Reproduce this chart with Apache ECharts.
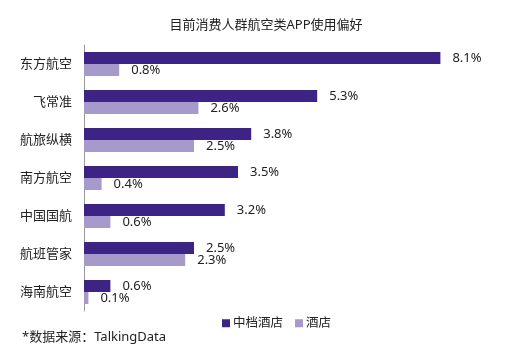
<!DOCTYPE html>
<html>
<head>
<meta charset="utf-8">
<script src="https://cdn.jsdelivr.net/npm/echarts@6/dist/echarts.min.js"></script>
<style>html,body{margin:0;padding:0;background:#fff;}#c{width:532px;height:354px;}</style>
</head>
<body>
<div id="c"></div>
<script>
var categories = ['东方航空', '飞常准', '航旅纵横', '南方航空', '中国国航', '航班管家', '海南航空'];
var midHotel = [8.1, 5.3, 3.8, 3.5, 3.2, 2.5, 0.6];
var hotel = [0.8, 2.6, 2.5, 0.4, 0.6, 2.3, 0.1];
var seriesNames = ['中档酒店', '酒店'];
var titleText = '目前消费人群航空类APP使用偏好';
var noteText = '*数据来源：TalkingData';

var font = '"Noto Sans", "Noto Sans CJK SC", sans-serif';
var chart = echarts.init(document.getElementById('c'), null, {renderer: 'canvas'});
function lbl() {
  return {show: true, position: 'right', distance: 12, color: '#222', fontSize: 13, fontFamily: font,
    formatter: function (p) { return p.value.toFixed(1) + '%'; }};
}
chart.setOption({
  animation: false,
  title: {text: titleText, left: 'center', top: 14,
    textStyle: {fontSize: 13, fontWeight: 'normal', color: '#222', fontFamily: font}},
  graphic: [{type: 'text', left: 22, top: 331,
    style: {text: noteText, fontSize: 13, fill: '#222', fontFamily: font}}],
  legend: {data: seriesNames, left: 217, top: 312, itemWidth: 8, itemHeight: 8, itemGap: 12,
    icon: 'rect', textStyle: {fontSize: 12.5, color: '#222', fontFamily: font, padding: [0, 0, 0, -2]}},
  grid: {left: 84, right: 52, top: 45, height: 266, containLabel: false},
  xAxis: {type: 'value', min: 0, max: 9, show: false},
  yAxis: {type: 'category', data: categories, inverse: true,
    axisLine: {lineStyle: {color: '#999', width: 1}},
    axisTick: {length: 5, lineStyle: {color: '#999'}},
    axisLabel: {margin: 12, fontSize: 13, color: '#222', fontFamily: font}},
  series: [
    {name: seriesNames[0], type: 'bar', data: midHotel, barWidth: 12, barGap: '0%',
      itemStyle: {color: '#3c2384'}, label: lbl()},
    {name: seriesNames[1], type: 'bar', data: hotel, barWidth: 12, barGap: '0%',
      itemStyle: {color: '#a59ac9'}, label: lbl()}
  ]
});
</script>
</body>
</html>
